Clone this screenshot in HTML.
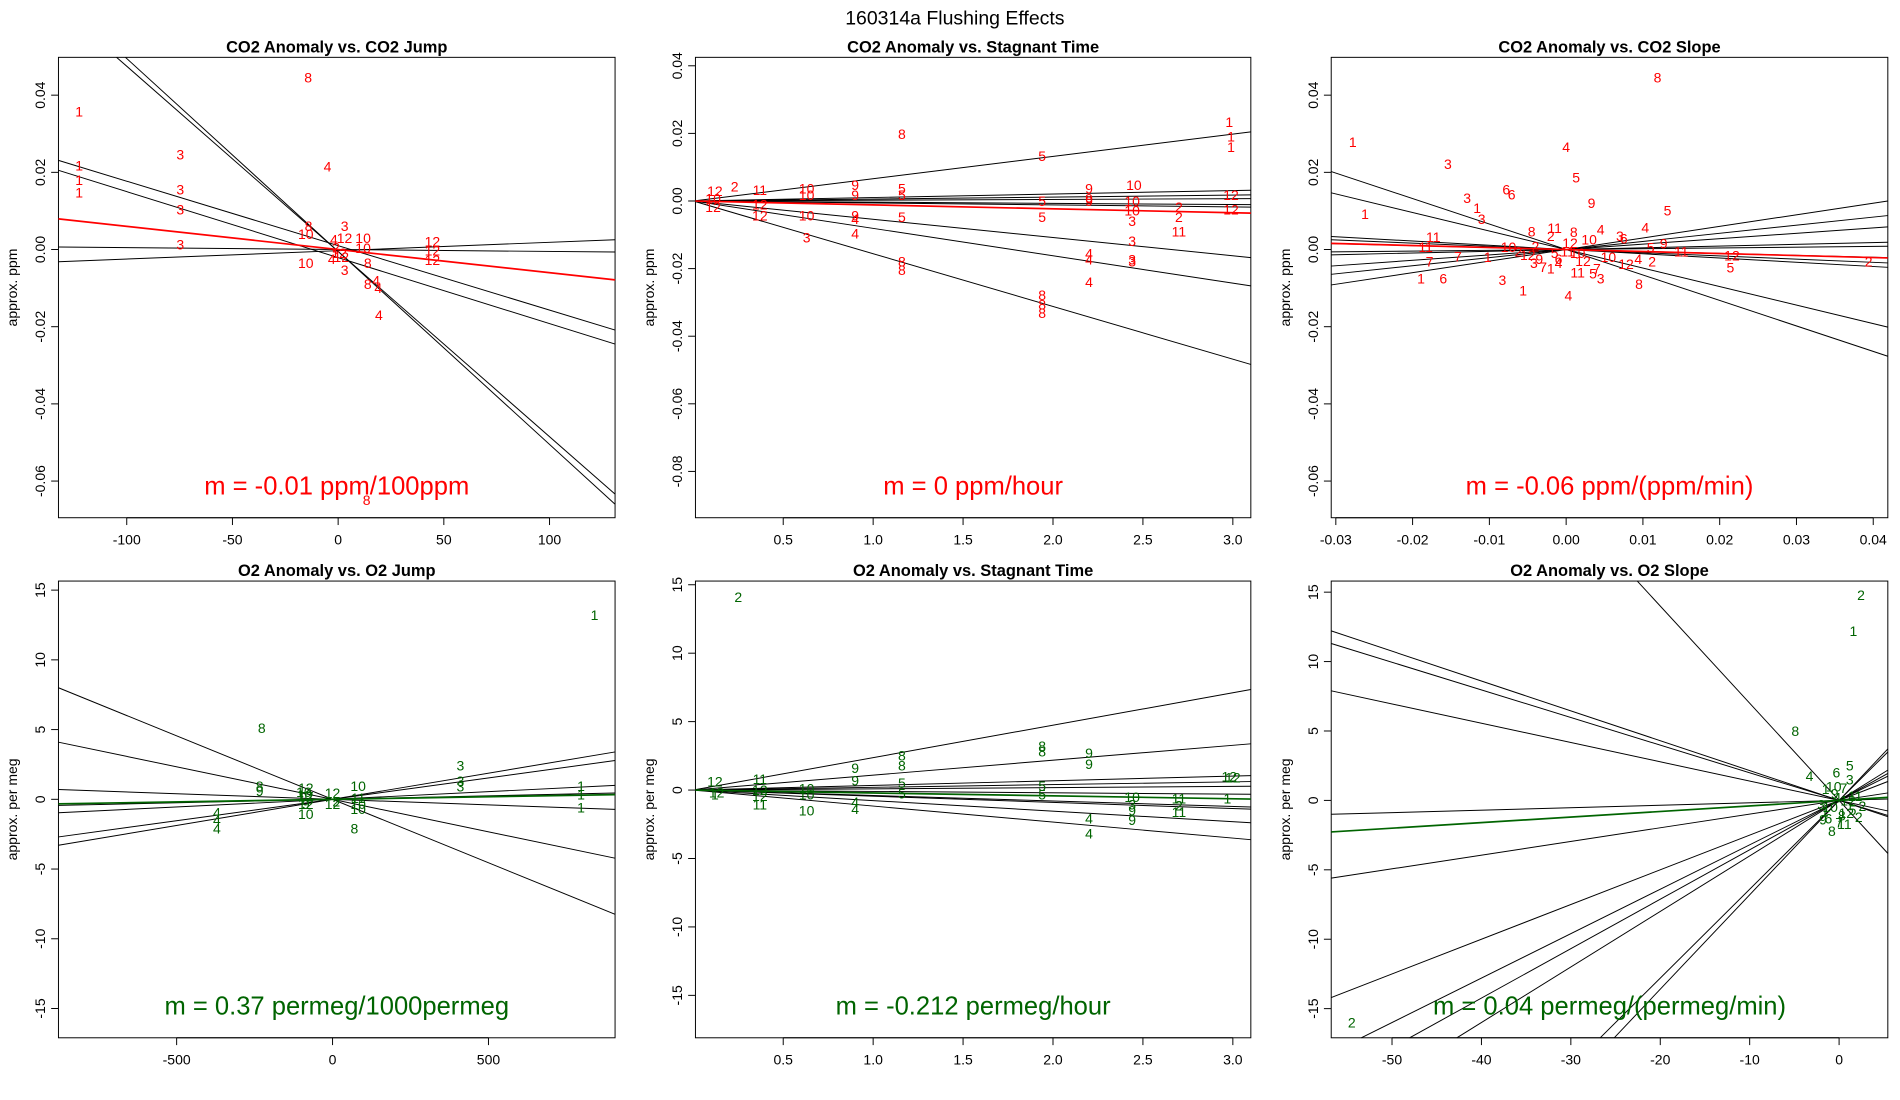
<!DOCTYPE html>
<html><head><meta charset="utf-8"><style>
html,body{margin:0;padding:0;background:#fff;overflow:hidden;width:1900px;height:1100px}
svg{display:block}
text{font-family:"Liberation Sans",sans-serif}
</style></head><body>
<svg id="chart" width="1900" height="1100" viewBox="0 0 1560 903">
<text x="784" y="20" font-size="16" text-anchor="middle">160314a   Flushing Effects</text>
</svg>
<script>
// ---------- Panel 1: CO2 Anomaly vs CO2 Jump ----------
const p1XTicks=[-100,-50,0,50,100];
const p1XTickLabels=["-100","-50","0","50","100"];
const p1YTicks=[0.04,0.02,0,-0.02,-0.04,-0.06];
const p1YTickLabels=["0.04","0.02","0.00","-0.02","-0.04","-0.06"];
const p1LineSlopes=[-0.00048,-0.00050,-0.000167,-0.000171,-0.000005,0.0000217];
const p1LineIntercepts=[-0.0005,-0.0005,0.001,-0.0021,0,-0.0003];
const p1FitSlope=[-0.00006];
const p1PtLabels=["1","1","1","1","3","3","3","3","8","4","4","8","10","10","10","10","12","12","12","12","8","3","3","4","4","12","8","8","4","4","12","2"];
const p1PtX=[-122.5,-122.5,-122.5,-122.5,-74.7,-74.7,-74.7,-74.7,-14.2,-5,19.3,13.5,-15.3,-15.3,11.8,11.8,44.6,44.6,44.6,3,-14,3.1,3.1,-3,-2,0.5,14,14,18,19,1.5,-1];
const p1PtY=[0.0357,0.0218,0.018,0.0148,0.0246,0.0155,0.0104,0.0013,0.0445,0.0215,-0.017,-0.065,0.004,-0.0035,0.003,0.0003,0.002,-0.0003,-0.0028,0.003,0.006,0.006,-0.0054,-0.0025,0.0025,-0.001,-0.0035,-0.009,-0.008,-0.010,-0.002,0.0005];
// ---------- Panel 2: CO2 Anomaly vs Stagnant Time ----------
const p2XTicks=[0.5,1.0,1.5,2.0,2.5,3.0];
const p2XTickLabels=["0.5","1.0","1.5","2.0","2.5","3.0"];
const p2YTicks=[0.04,0.02,0,-0.02,-0.04,-0.06,-0.08];
const p2YTickLabels=["0.04","0.02","0.00","-0.02","-0.04","-0.06","-0.08"];
const p2LineSlopes=[0.0066,0.00103,0.00058,0.00023,-0.00035,-0.00058,-0.0054,-0.0081,-0.0156];
const p2FitSlope=[-0.00116];
const p2PtLabels=["8","5","1","1","1","10","9","9","12","12","10","10","2","2","11","3","3","3","3","4","4","4","8","8","8","8","8","3","4","4","5","5","5","9","9","9","10","10","10","11","12","12","2","12","12","10","5","5","9"];
const p2PtX=[1.16,1.94,2.98,2.99,2.99,2.45,2.2,2.2,2.99,2.99,2.44,2.44,2.7,2.7,2.7,2.44,2.44,2.44,2.44,2.2,2.2,2.2,1.94,1.94,1.94,1.16,1.16,0.63,0.9,0.9,1.16,1.16,1.16,0.9,0.9,0.9,0.63,0.63,0.63,0.37,0.37,0.37,0.23,0.12,0.11,0.11,1.94,1.94,2.2];
const p2PtY=[0.0198,0.0133,0.0234,0.019,0.0159,0.0047,0.0036,0.0007,0.0018,-0.0025,0,-0.0029,-0.0018,-0.0047,-0.009,-0.006,-0.0119,-0.0173,-0.018,-0.0155,-0.0173,-0.024,-0.0278,-0.0306,-0.0332,-0.0180,-0.0205,-0.0108,-0.0097,-0.0054,-0.0047,0.0036,0.0018,0.0047,0.0018,-0.0043,0.0036,0.0018,-0.0043,0.0032,-0.0011,-0.0043,0.0043,0.0029,-0.0018,0.0007,0,-0.0047,0];
// ---------- Panel 3: CO2 Anomaly vs CO2 Slope ----------
const p3XTicks=[-0.03,-0.02,-0.01,0,0.01,0.02,0.03,0.04];
const p3XTickLabels=["-0.03","-0.02","-0.01","0.00","0.01","0.02","0.03","0.04"];
const p3YTicks=p1YTicks;
const p3YTickLabels=p1YTickLabels;
const p3LineSlopes=[-0.66,-0.48,-0.11,-0.083,-0.05,0.02,0.045,0.14,0.21,0.30];
const p3FitSlope=[-0.052];
const p3PtLabels=["8","1","3","4","5","6","6","3","1","3","9","5","4","1","11","11","7","7","1","6","3","1","4","2","12","5","11","8","2","11","8","4","10","3","6","10","2","12","5","9","4","12","2","5","8","11","7","3","1","7","4","10","12","9","2","10","5","6","3","12","11","1"];
const p3PtX=[0.0119,-0.0278,-0.0154,0,0.0013,-0.0078,-0.0071,-0.0129,-0.0116,-0.011,0.0033,0.0132,0.0103,-0.0262,-0.0173,-0.0183,-0.0178,-0.0141,-0.0189,-0.016,-0.0083,-0.0056,0.0003,0.0394,0.0216,0.0214,0.015,-0.0045,-0.002,-0.0015,0.001,0.0045,0.003,0.007,0.0075,-0.0075,-0.004,0.0005,0.011,0.0127,0.0094,0.0078,0.0112,0.0035,0.0095,0.0015,0.004,0.0045,-0.002,-0.003,-0.001,0.0055,-0.005,-0.0035,-0.0062,0.0015,-0.0015,-0.001,-0.0042,0.0022,0.0002,-0.0102];
const p3PtY=[0.0445,0.0278,0.0221,0.0265,0.0186,0.0155,0.0142,0.0133,0.0107,0.0079,0.0120,0.0101,0.0057,0.0092,0.0032,0.0006,-0.0032,-0.0019,-0.0076,-0.0076,-0.0079,-0.0107,-0.0120,-0.0032,-0.0016,-0.0047,-0.0006,0.0047,0.0035,0.0055,0.0045,0.0052,0.0025,0.0035,0.0028,0.0006,0.0008,0.0016,0.0005,0.0015,-0.0025,-0.0038,-0.0032,-0.0062,-0.0090,-0.0060,-0.0050,-0.0075,-0.0050,-0.0045,-0.0035,-0.0020,-0.0015,-0.0025,-0.0005,-0.0010,-0.0010,-0.0025,-0.0035,-0.0030,-0.0005,-0.0020];
// ---------- Panel 4: O2 Anomaly vs O2 Jump ----------
const p4XTicks=[-500,0,500];
const p4XTickLabels=["-500","0","500"];
const p4YTicks=[15,10,5,0,-5,-10,-15];
const p4YTickLabels=["15","10","5","0","-5","-10","-15"];
const p4LineSlopes=[-0.0091,-0.00466,0.00375,0.00307,-0.0008,0.0005,0.0011];
const p4FitSlope=[0.00037];
const p4PtLabels=["1","8","3","3","3","1","1","1","4","4","4","8","9","10","8","12","12","12","12","12","10","10","10","9","2","11","10","10"];
const p4PtX=[840,-227,410,410,410,797,797,797,-371,-371,-371,-234,-234,-86,70,-86,-86,-86,0,0,82,82,82,-86,12,82,-92,-90];
const p4PtY=[13.2,5.1,2.4,1.3,0.9,0.96,0.35,-0.6,-0.96,-1.5,-2.1,0.96,0.6,-1.05,-2.1,0.8,0.2,-0.35,0.45,-0.35,0.96,-0.35,-0.7,-0.35,-0.17,0.1,0.5,0.3];
// ---------- Panel 5: O2 Anomaly vs Stagnant Time ----------
const p5XTicks=p2XTicks;
const p5XTickLabels=p2XTickLabels;
const p5YTicks=p4YTicks;
const p5YTickLabels=p4YTickLabels;
const p5LineSlopes=[2.37,1.09,0.34,0.2,0.09,-0.1,-0.4,-0.45,-0.77,-1.17];
const p5FitSlope=[-0.212];
const p5PtLabels=["2","12","12","1","11","11","12","12","10","10","10","9","9","4","4","8","8","5","5","8","8","5","5","9","9","4","4","10","9","9","3","11","11","2","12","12","1"];
const p5PtX=[0.25,0.12,0.13,0.12,0.37,0.37,0.37,0.37,0.63,0.63,0.63,0.9,0.9,0.9,0.9,1.16,1.16,1.16,1.16,1.94,1.94,1.94,1.94,2.2,2.2,2.2,2.2,2.44,2.44,2.44,2.44,2.7,2.7,2.7,2.98,3.0,2.97];
const p5PtY=[14.1,0.6,-0.2,-0.35,0.8,-1.06,0,-0.44,0.09,-1.5,-0.35,1.6,0.7,-1.4,-0.9,2.5,1.8,0.5,-0.27,3.2,2.8,0.27,-0.35,2.7,1.9,-2.1,-3.2,-0.53,-1.5,-2.2,-1.06,-0.62,-1.6,-1.15,0.97,0.9,-0.62];
// ---------- Panel 6: O2 Anomaly vs O2 Slope ----------
const p6XTicks=[-50,-40,-30,-20,-10,0];
const p6XTickLabels=["-50","-40","-30","-20","-10","0"];
const p6YTicks=p4YTicks;
const p6YTickLabels=p4YTickLabels;
const p6LineSlopes=[-0.215,-0.199,-0.139,0.0176,0.0986,0.25,0.32,0.356,0.40,0.64,0.68,-0.70];
const p6FitSlope=[0.04];
const p6PtLabels=["2","1","8","2","4","5","6","3","8","1","7","9","11","2","10","12","3","4","5","6","7","8","1","2","10","11","9","12"];
const p6PtX=[2.45,1.6,-4.9,-54.5,-3.3,1.2,-0.3,1.2,-0.8,-1.5,0.5,-0.5,1.8,2.6,-1,0.8,-2,-0.2,1.5,-1.2,0,0.3,-1.6,2.2,-0.6,0.6,-1.8,1];
const p6PtY=[14.8,12.2,5.0,-16.0,1.75,2.5,2.0,1.5,-2.2,0.8,0.9,0.5,0.3,-0.4,-0.5,-0.9,-0.3,0.2,-0.7,-1.3,-1.6,-1.1,-0.8,-1.2,1.0,-1.7,-1.4,0.0];

const NS='http://www.w3.org/2000/svg';
const svg=document.getElementById('chart');
function mk(tag,attrs,parent){const e=document.createElementNS(NS,tag);for(const k in attrs)e.setAttribute(k,attrs[k]);(parent||svg).appendChild(e);return e;}

const panels=[
 {id:'p1',box:[48,47,505,425],xr:[-132.3,131],yr:[-0.0695,0.0498],title:'CO2 Anomaly vs. CO2 Jump',ylab:'approx. ppm',col:'#ff0000',m:'m = -0.01 ppm/100ppm',
  xt:p1XTicks,xl:p1XTickLabels,yt:p1YTicks,yl:p1YTickLabels,ls:p1LineSlopes,li:p1LineIntercepts,fit:p1FitSlope,pl:p1PtLabels,px:p1PtX,py:p1PtY},
 {id:'p2',box:[571,47,1027,425],xr:[0.012,3.1],yr:[-0.0937,0.0425],title:'CO2 Anomaly vs. Stagnant Time',ylab:'approx. ppm',col:'#ff0000',m:'m = 0 ppm/hour',
  xt:p2XTicks,xl:p2XTickLabels,yt:p2YTicks,yl:p2YTickLabels,ls:p2LineSlopes,li:null,fit:p2FitSlope,pl:p2PtLabels,px:p2PtX,py:p2PtY},
 {id:'p3',box:[1093,47,1550,425],xr:[-0.0306,0.0419],yr:[-0.0695,0.0498],title:'CO2 Anomaly vs. CO2 Slope',ylab:'approx. ppm',col:'#ff0000',m:'m = -0.06 ppm/(ppm/min)',
  xt:p3XTicks,xl:p3XTickLabels,yt:p3YTicks,yl:p3YTickLabels,ls:p3LineSlopes,li:null,fit:p3FitSlope,pl:p3PtLabels,px:p3PtX,py:p3PtY},
 {id:'p4',box:[48,477,505,852],xr:[-879,906],yr:[-17.1,15.65],title:'O2 Anomaly vs. O2 Jump',ylab:'approx. per meg',col:'#006400',m:'m = 0.37 permeg/1000permeg',
  xt:p4XTicks,xl:p4XTickLabels,yt:p4YTicks,yl:p4YTickLabels,ls:p4LineSlopes,li:null,fit:p4FitSlope,pl:p4PtLabels,px:p4PtX,py:p4PtY},
 {id:'p5',box:[571,477,1027,852],xr:[0.012,3.1],yr:[-18.1,15.27],title:'O2 Anomaly vs. Stagnant Time',ylab:'approx. per meg',col:'#006400',m:'m = -0.212 permeg/hour',
  xt:p5XTicks,xl:p5XTickLabels,yt:p5YTicks,yl:p5YTickLabels,ls:p5LineSlopes,li:null,fit:p5FitSlope,pl:p5PtLabels,px:p5PtX,py:p5PtY},
 {id:'p6',box:[1093,477,1550,852],xr:[-56.8,5.45],yr:[-17.1,15.8],title:'O2 Anomaly vs. O2 Slope',ylab:'approx. per meg',col:'#006400',m:'m = 0.04 permeg/(permeg/min)',
  xt:p6XTicks,xl:p6XTickLabels,yt:p6YTicks,yl:p6YTickLabels,ls:p6LineSlopes,li:null,fit:p6FitSlope,pl:p6PtLabels,px:p6PtX,py:p6PtY}
];

// clip line y=b+s*x to the data rectangle, returning [xa,xb] or null
function clipLine(s,b,xr,yr){
 let xa=xr[0],xb=xr[1];
 if(s!==0){
  let u=(yr[0]-b)/s,v=(yr[1]-b)/s;
  const lo=Math.min(u,v),hi=Math.max(u,v);
  xa=Math.max(xa,lo);xb=Math.min(xb,hi);
 }
 return xa<xb?[xa,xb]:null;
}

panels.forEach(P=>{
 const [x0,y0,x1,y1]=P.box;
 const sx=v=>x0+(v-P.xr[0])/(P.xr[1]-P.xr[0])*(x1-x0);
 const sy=v=>y1-(v-P.yr[0])/(P.yr[1]-P.yr[0])*(y1-y0);
 const g=mk('g',{});
 
 
 const t=mk('text',{x:(x0+x1)/2,y:y0-4,'font-size':'13.5','font-weight':'bold','text-anchor':'middle'},g);t.textContent=P.title;
 
 
 const yl=mk('text',{x:0,y:0,'font-size':'11.5','text-anchor':'middle',transform:`translate(${x0-34},${(y0+y1)/2}) rotate(-90)`},g);yl.textContent=P.ylab;
 
 
 P.xt.forEach((v,i)=>{const X=sx(v);
  mk('line',{x1:X,y1:y1,x2:X,y2:y1+6,stroke:'#000','stroke-width':0.8},g);
  const tl=mk('text',{x:X,y:y1+22,'font-size':'11.5','text-anchor':'middle'},g);tl.textContent=P.xl[i];
  
  });
 mk('line',{x1:sx(P.xt[0]),y1:y1,x2:sx(P.xt[P.xt.length-1]),y2:y1,stroke:'#000','stroke-width':0.8},g);
 P.yt.forEach((v,i)=>{const Y=sy(v);
  mk('line',{x1:x0,y1:Y,x2:x0-6,y2:Y,stroke:'#000','stroke-width':0.8},g);
  const tl=mk('text',{x:0,y:0,'font-size':'11.5','text-anchor':'middle',transform:`translate(${x0-11},${Y}) rotate(-90)`},g);tl.textContent=P.yl[i];
  
  });
 const frame=mk('rect',{x:x0,y:y0,width:x1-x0,height:y1-y0,fill:'none',stroke:'#000','stroke-width':0.8},g);
 
 
 P.ls.forEach((s,i)=>{const b=P.li?P.li[i]:0;
  const c=clipLine(s,b,P.xr,P.yr); if(!c) return;
  const l=mk('line',{x1:sx(c[0]),y1:sy(b+s*c[0]),x2:sx(c[1]),y2:sy(b+s*c[1]),stroke:'#000','stroke-width':0.8},g);
  
  });
 P.pl.forEach((lab,i)=>{
  const tx=mk('text',{x:sx(P.px[i]),y:sy(P.py[i])+4,'font-size':'11.5','text-anchor':'middle',fill:P.col},g);tx.textContent=lab;
  
  });
 P.fit.forEach(s=>{
  const c=clipLine(s,0,P.xr,P.yr); if(!c) return;
  const l=mk('line',{x1:sx(c[0]),y1:sy(s*c[0]),x2:sx(c[1]),y2:sy(s*c[1]),stroke:P.col,'stroke-width':1.4},g);
  
  });
 const m=mk('text',{x:(x0+x1)/2,y:y1-19,'font-size':'21','text-anchor':'middle',fill:P.col},g);m.textContent=P.m;
 
 
});
</script>
</body></html>
